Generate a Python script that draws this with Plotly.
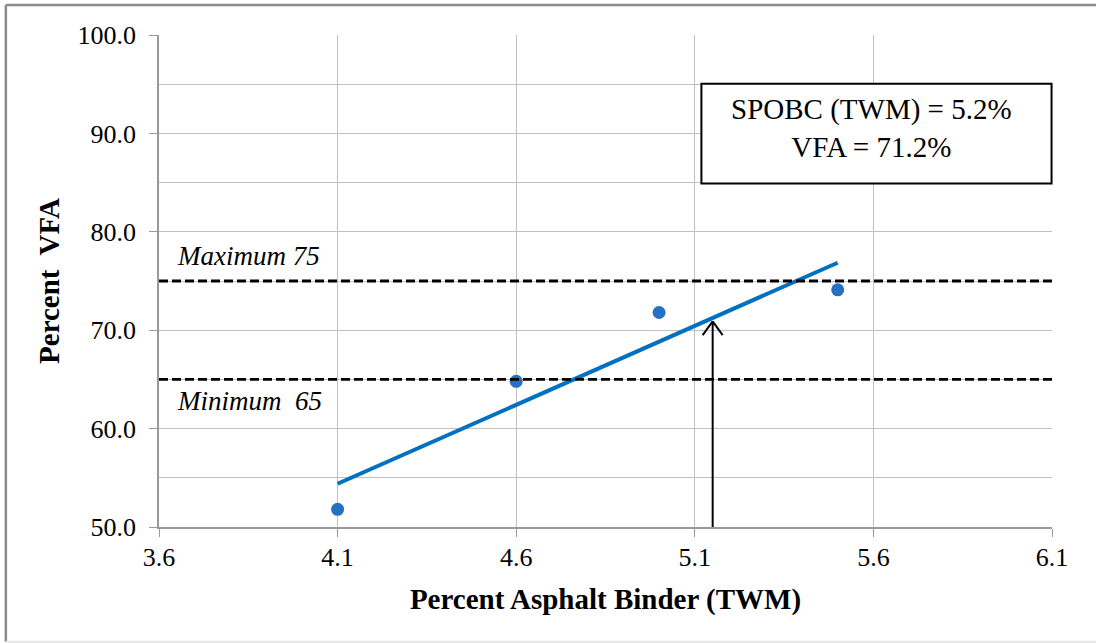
import numpy as np
import plotly.graph_objects as go

# Data
binder = [4.1, 4.6, 5.0, 5.5]
vfa = [51.8, 64.8, 71.8, 74.1]
vfa_max = 75
vfa_min = 65
spobc = 5.15          # arrow location
spobc_vfa = 70.9      # arrow tip
x_ticks = [3.6, 4.1, 4.6, 5.1, 5.6, 6.1]
y_ticks = [50, 60, 70, 80, 90, 100]
box_lines = ["SPOBC (TWM) = 5.2%", "VFA = 71.2%"]

slope, intercept = np.polyfit(binder, vfa, 1)
trend_x = [binder[0], binder[-1]]
trend_y = [slope * x + intercept for x in trend_x]

SERIF = "Liberation Serif, Times New Roman, serif"
BLUE = "#0070C0"
GRID = "#c0c0c0"
AXIS = "#999999"

fig = go.Figure()
fig.add_trace(go.Scatter(x=trend_x, y=trend_y, mode="lines",
                         line=dict(color=BLUE, width=4), showlegend=False, hoverinfo="skip"))
fig.add_trace(go.Scatter(x=binder, y=vfa, mode="markers",
                         marker=dict(color="#2670C2", size=13), showlegend=False))

# spec lines
for v in (vfa_max, vfa_min):
    fig.add_shape(type="line", xref="x", yref="y", x0=3.6, x1=6.1, y0=v, y1=v,
                  line=dict(color="black", width=2.8, dash="9px,4px"))

# arrow
fig.add_shape(type="line", xref="x", yref="y", x0=spobc, x1=spobc, y0=50, y1=spobc_vfa,
              line=dict(color="black", width=2))
fig.add_shape(type="line", xref="x", yref="y", x0=spobc - 0.028, x1=spobc, y0=spobc_vfa - 1.4, y1=spobc_vfa,
              line=dict(color="black", width=2))
fig.add_shape(type="line", xref="x", yref="y", x0=spobc + 0.028, x1=spobc, y0=spobc_vfa - 1.4, y1=spobc_vfa,
              line=dict(color="black", width=2))

# text box
fig.add_shape(type="rect", xref="paper", yref="paper", x0=0.6074, x1=0.9995, y0=0.698, y1=0.901,
              line=dict(color="black", width=2), fillcolor="white", layer="above")
fig.add_annotation(xref="paper", yref="paper", x=0.798, y=0.81, xanchor="center", yanchor="middle",
                   text="<br>".join(box_lines), showarrow=False,
                   font=dict(family=SERIF, size=29, color="black"), align="center")

fig.add_annotation(xref="x", yref="y", x=3.645, y=vfa_max + 2.5, text="<i>Maximum 75</i>",
                   showarrow=False, xanchor="left", yanchor="middle",
                   font=dict(family=SERIF, size=27, color="black"))
fig.add_annotation(xref="x", yref="y", x=3.645, y=vfa_min - 2.2, text="<i>Minimum\u00a0 65</i>",
                   showarrow=False, xanchor="left", yanchor="middle",
                   font=dict(family=SERIF, size=27, color="black"))

# outer frame (top, left, bottom)
fig.add_shape(type="line", xref="paper", yref="paper", x0=-0.1715, x1=1.05, y0=1.061, y1=1.061,
              line=dict(color="#8c8c8c", width=2.5))
fig.add_shape(type="line", xref="paper", yref="paper", x0=-0.1715, x1=-0.1715, y0=1.061, y1=-0.233,
              line=dict(color="#8c8c8c", width=2.5))
fig.add_shape(type="line", xref="paper", yref="paper", x0=-0.1715, x1=1.05, y0=-0.233, y1=-0.233,
              line=dict(color="#e3e3e3", width=2))

fig.update_layout(
    width=1096, height=643,
    margin=dict(l=159, r=44, t=35, b=116),
    paper_bgcolor="white", plot_bgcolor="white",
    font=dict(family=SERIF, size=26, color="black"),
    showlegend=False,
)
fig.update_xaxes(range=[3.6, 6.1], tickvals=x_ticks, ticktext=[f"{v:.1f}" for v in x_ticks],
                 showgrid=True, gridcolor=GRID, gridwidth=1.2,
                 showline=True, linecolor=AXIS, linewidth=1.5,
                 ticks="outside", ticklen=8, tickcolor=AXIS, ticklabelstandoff=-2,
                 zeroline=False,
                 title=dict(text="<b>Percent Asphalt Binder (TWM)</b>", font=dict(size=29), standoff=18))
fig.update_yaxes(range=[50, 100], tickvals=y_ticks, ticktext=[f"{v:.1f}" for v in y_ticks],
                 showgrid=True, gridcolor=GRID, gridwidth=1.2,
                 minor=dict(dtick=5, tick0=50, showgrid=True, gridcolor=GRID, gridwidth=1.2),
                 showline=True, linecolor=AXIS, linewidth=1.5,
                 ticks="outside", ticklen=8, tickcolor=AXIS, ticklabelstandoff=8,
                 zeroline=False,
                 title=dict(text="<b>Percent\u00a0 VFA</b>", font=dict(size=29), standoff=9))

fig.write_html("out.html", post_script="document.body.style.margin='0';",
               config={"displayModeBar": False})
